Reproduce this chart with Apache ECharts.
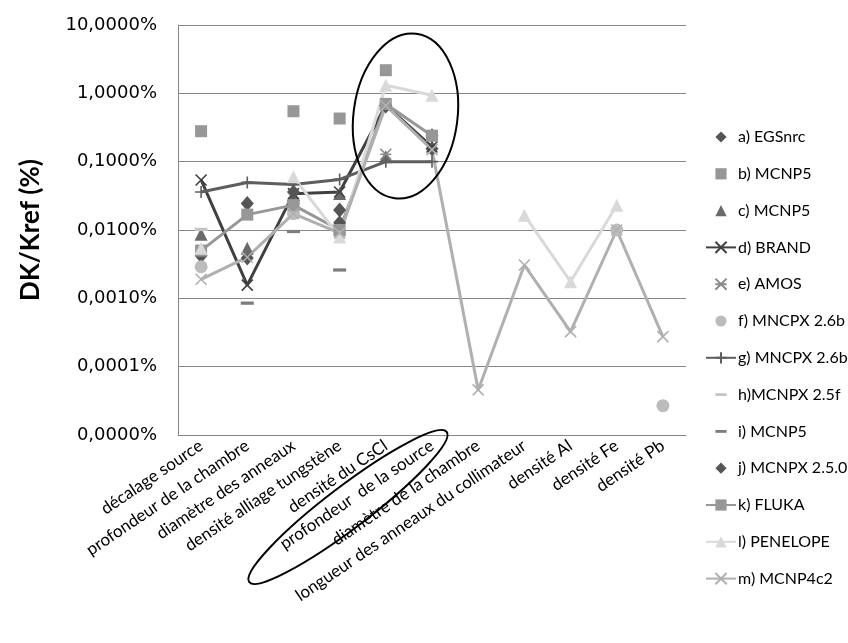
<!DOCTYPE html>
<html>
<head>
<meta charset="utf-8">
<script src="https://cdn.jsdelivr.net/npm/echarts@6/dist/echarts.min.js"></script>
<style>
html,body{margin:0;padding:0;background:#fff;}
#chart{width:848px;height:643px;}
</style>
</head>
<body>
<div id="chart"></div>
<script>
var categories = ['décalage source','profondeur de la chambre','diamètre des anneaux','densité alliage tungstène','densité du CsCl','profondeur  de la source','diamètre de la chambre','longueur des anneaux du collimateur','densité Al','densité Fe','densité Pb'];
var yTickLabels = ['0,0000%','0,0001%','0,0010%','0,0100%','0,1000%','1,0000%','10,0000%'];

var aEGSnrc    = [0.0042, 0.0039, 0.027, 0.0128, 0.67, 0.155, null, null, null, null, null];
var bMCNP5     = [0.279, null, 0.547, 0.428, 2.18, null, null, null, null, null, null];
var cMCNP5     = [0.0087, 0.0054, 0.030, 0.0343, 0.118, null, null, null, null, null, null];
var dBRAND     = [0.054, 0.00156, 0.034, 0.036, 0.67, 0.164, null, null, null, null, null];
var eAMOS      = [null, null, null, null, 0.128, null, null, null, null, null, null];
var fMNCPX26b  = [0.0029, null, 0.0174, 0.0089, null, null, null, null, null, 0.0100, 0.0000269];
var gMNCPX26b  = [0.036, 0.0497, 0.0464, 0.055, 0.100, 0.100, null, null, null, null, null];
var hMCNPX25f  = [0.0102, null, null, null, null, null, null, null, null, null, null];
var iMCNP5     = [null, 0.00085, 0.0095, 0.0026, null, null, null, null, null, null, null];
var jMCNPX250  = [null, 0.0245, 0.036, 0.0196, 0.65, 0.24, null, null, null, null, null];
var kFLUKA     = [0.0050, 0.0168, 0.0231, 0.0100, 0.70, 0.24, null, null, null, null, null];
var lPENELOPE  = [0.0054, null, 0.060, 0.0079, 1.31, 0.94, null, 0.0165, 0.00175, 0.0231, null];
var mMCNP4c2   = [0.0019, 0.0040, 0.0174, 0.0090, 0.66, 0.15, 0.0000457, 0.00307, 0.000325, 0.0100, 0.000275];

var X_PATH = 'path://M0,0L10,10M10,0L0,10';
var AST_PATH = 'path://M0,0L10,10M10,0L0,10M0,5L10,5';
var PLUS_PATH = 'path://M5,0L5,10M0,5L10,5';
var DASH_PATH = 'path://M0,0M12,12M0,4.5L12,4.5L12,7.5L0,7.5Z';

function markers(name, data, symbol, size, color, stroke) {
  return {
    name: name, type: 'line', data: data, symbol: symbol, symbolSize: size,
    symbolKeepAspect: true, showSymbol: true, connectNulls: false,
    lineStyle: { color: color, width: 0, opacity: 0 },
    itemStyle: stroke ? { color: color, borderColor: color, borderWidth: 1.5 } : { color: color, borderWidth: 0 },
    emphasis: { disabled: true }
  };
}
function line(name, data, symbol, size, color, stroke) {
  return {
    name: name, type: 'line', data: data, symbol: symbol, symbolSize: size,
    symbolKeepAspect: true, showSymbol: true, connectNulls: false,
    lineStyle: { color: color, width: 3 },
    itemStyle: stroke ? { color: color, borderColor: color, borderWidth: 1.6 } : { color: color, borderWidth: 0 },
    emphasis: { disabled: true }
  };
}

var series = [
  markers('a) EGSnrc', aEGSnrc, 'diamond', [13, 15], '#555555'),
  markers('b) MCNP5', bMCNP5, 'rect', 12, '#979797'),
  markers('c) MCNP5', cMCNP5, 'triangle', 13, '#6a6a6a'),
  line('d) BRAND', dBRAND, X_PATH, 11, '#404040', true),
  markers('e) AMOS', eAMOS, AST_PATH, 11, '#8a8a8a', true),
  markers('f) MNCPX 2.6b', fMNCPX26b, 'circle', 13, '#bcbcbc'),
  line('g) MNCPX 2.6b', gMNCPX26b, PLUS_PATH, 12, '#5e5e5e', true),
  markers('h)MCNPX 2.5f', hMCNPX25f, DASH_PATH, 13, '#c4c4c4'),
  markers('i) MCNP5', iMCNP5, DASH_PATH, 13, '#7d7d7d'),
  markers('j) MCNPX 2.5.0', jMCNPX250, 'diamond', [13, 15], '#555555'),
  line('k) FLUKA', kFLUKA, 'rect', 12, '#979797', false),
  line('l) PENELOPE', lPENELOPE, 'triangle', 13, '#d9d9d9', false),
  line('m) MCNP4c2', mMCNP4c2, X_PATH, 11, '#b0b0b0', true)
];

var chart = echarts.init(document.getElementById('chart'), null, { renderer: 'canvas' });
chart.setOption({
  backgroundColor: '#ffffff',
  animation: false,
  textStyle: { fontFamily: 'Lato' },
  grid: { left: 178, right: 162, top: 25, bottom: 208, containLabel: false },
  xAxis: {
    type: 'category',
    data: categories,
    boundaryGap: true,
    axisLine: { show: true, lineStyle: { color: '#868686', width: 1 } },
    axisTick: { show: false },
    axisLabel: { rotate: 34, margin: 9, interval: 0, fontSize: 17, color: '#000', fontFamily: 'Lato' },
    splitLine: { show: false }
  },
  yAxis: {
    type: 'log',
    logBase: 10,
    min: 0.00001,
    max: 10,
    interval: 1,
    name: 'DK/Kref (%)',
    nameLocation: 'middle',
    nameRotate: 90,
    nameGap: 134,
    nameTextStyle: { fontSize: 26, fontWeight: 'bold', color: '#000', fontFamily: 'Lato' },
    axisLine: { show: true, lineStyle: { color: '#868686', width: 1 } },
    axisTick: { show: false },
    splitLine: { show: true, lineStyle: { color: '#868686', width: 1 } },
    axisLabel: {
      fontSize: 18, color: '#000', margin: 21, fontFamily: 'DejaVu Sans',
      formatter: function (v) {
        var idx = Math.round(Math.log10(v)) + 5;
        return yTickLabels[idx];
      }
    }
  },
  legend: {
    orient: 'vertical',
    left: 700,
    top: 124,
    itemWidth: 30,
    itemHeight: 14,
    itemGap: 20.8,
    textStyle: { fontSize: 16, color: '#000', lineHeight: 14, fontFamily: 'Lato', padding: [0, 0, 0, -3] },
    data: series.map(function (s) { return s.name; })
  },
  series: series,
  graphic: [
    {
      type: 'ellipse', x: 405.5, y: 116, rotation: -0.13,
      shape: { cx: 0, cy: 0, rx: 52, ry: 83 },
      style: { fill: 'none', stroke: '#000', lineWidth: 2 }, z: 100
    },
    {
      type: 'ellipse', x: 348, y: 507, rotation: 0.65,
      shape: { cx: 0, cy: 0, rx: 124, ry: 21 },
      style: { fill: 'none', stroke: '#000', lineWidth: 2 }, z: 100
    }
  ]
});
</script>
</body>
</html>
